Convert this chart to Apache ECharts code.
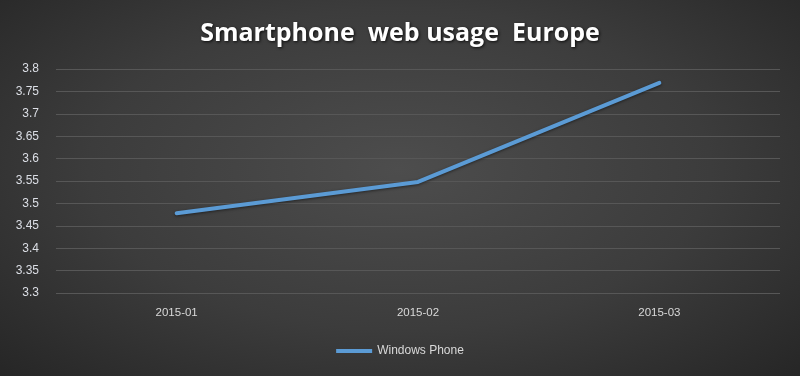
<!DOCTYPE html>
<html>
<head>
<meta charset="utf-8">
<script src="https://cdn.jsdelivr.net/npm/echarts@6/dist/echarts.min.js"></script>
<style>
html,body{margin:0;padding:0;background:#333;}
#c{width:800px;height:376px;background:radial-gradient(ellipse at 50% 45%, #4d4d4d 0%, #3c3c3c 55%, #262626 100%);}
</style>
</head>
<body>
<div id="c"></div>
<script>
const categories = ['2015-01', '2015-02', '2015-03'];
const seriesName = 'Windows Phone';
const values = [3.478, 3.548, 3.769];
const yMin = 3.3, yMax = 3.8, yStep = 0.05;

const chart = echarts.init(document.getElementById('c'), null, {renderer: 'canvas'});
chart.setOption({
  backgroundColor: 'transparent',
  animation: false,
  title: {
    text: 'Smartphone  web usage  Europe',
    left: 'center',
    top: 16,
    textStyle: {
      color: '#ffffff',
      fontFamily: 'Open Sans',
      fontWeight: 'bold',
      fontSize: 25,
      textShadowColor: 'rgba(0,0,0,0.8)',
      textShadowBlur: 3,
      textShadowOffsetX: 1,
      textShadowOffsetY: 1
    }
  },
  legend: {
    data: [seriesName],
    bottom: 14,
    left: 'center',
    icon: 'rect',
    itemWidth: 36,
    itemHeight: 4,
    itemGap: 4,
    textStyle: {color: '#d9d9d9', fontFamily: 'Liberation Sans', fontSize: 12}
  },
  grid: {left: 56, right: 20, top: 69, bottom: 83},
  xAxis: {
    type: 'category',
    data: categories,
    boundaryGap: true,
    axisLine: {show: false},
    axisTick: {show: false},
    axisLabel: {color: '#d9d9d9', fontFamily: 'Liberation Sans', fontSize: 11.5, margin: 14}
  },
  yAxis: {
    type: 'value',
    min: yMin,
    max: yMax,
    interval: yStep,
    axisLine: {show: false},
    axisTick: {show: false},
    axisLabel: {
      color: '#dcdfe6', fontFamily: 'Liberation Sans', fontSize: 12, margin: 17,
      formatter: v => String(Math.round(v * 100) / 100)
    },
    splitLine: {lineStyle: {color: '#575757', width: 1}}
  },
  series: [{
    name: seriesName,
    type: 'line',
    data: values,
    symbol: 'none',
    lineStyle: {color: '#5b9bd5', width: 4, cap: 'round', shadowColor: 'rgba(0,0,0,0.5)', shadowBlur: 3, shadowOffsetY: 1},
    itemStyle: {color: '#5b9bd5'}
  }]
});
</script>
</body>
</html>
